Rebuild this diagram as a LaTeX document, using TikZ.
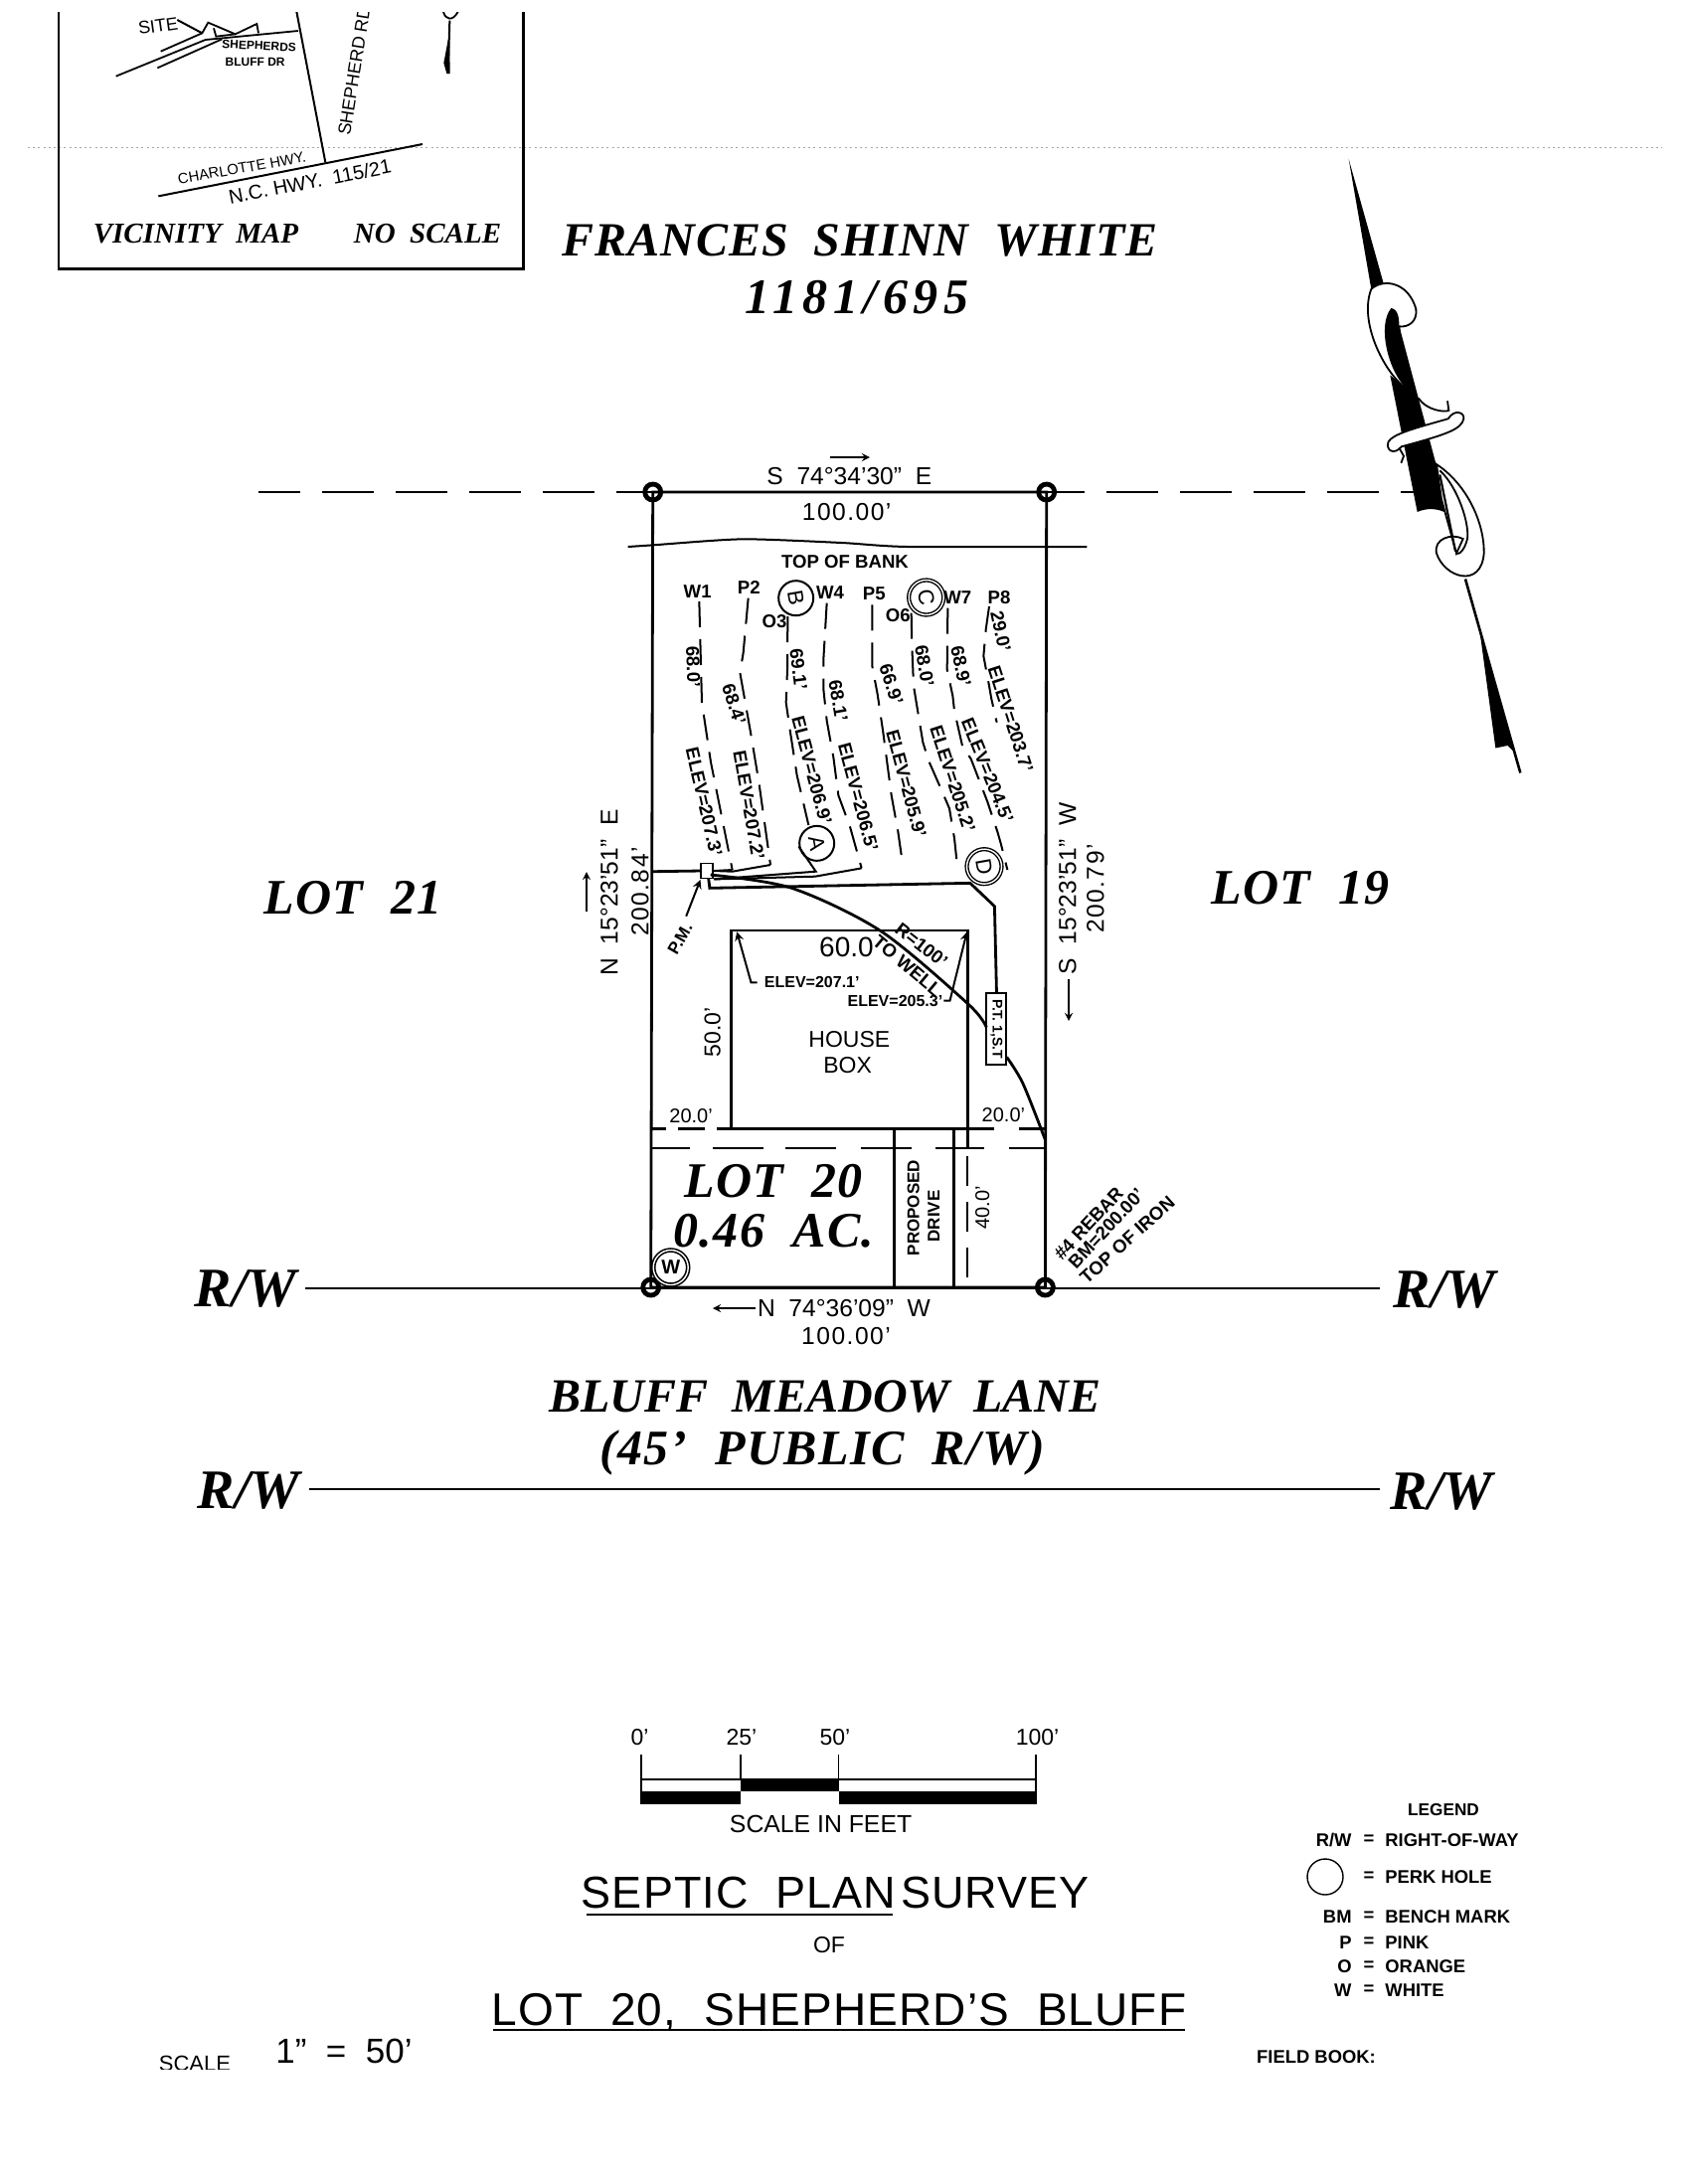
\documentclass[tikz,border=0pt]{standalone}
\usepackage{fontspec}
\setmainfont{Liberation Serif}
\setsansfont{Liberation Sans}
\newfontfamily\wideserif[LetterSpace=3,Ligatures=TeX]{Liberation Serif}
\newfontfamily\widesans[LetterSpace=2.5,Ligatures=TeX]{Liberation Sans}
\newfontfamily\digitsans[LetterSpace=6,Ligatures=TeX]{Liberation Sans}
\newcommand{\fsz}[1]{\fontsize{#1}{#1}\selectfont}
\tikzset{
  >=stealth,
  zoomone/.style={shift={(580,460)},x=0.16667pt,y=-0.16667pt},
  zoomtwo/.style={shift={(580,860)},x=0.20408pt,y=-0.16667pt},
  zoommap/.style={shift={(40,0)},x=0.16667pt,y=-0.16667pt},
  zoomnorth/.style={shift={(1320,140)},x=0.16667pt,y=-0.20833pt},
  lot/.style={font=\wideserif\bfseries\itshape\fsz{25},inner sep=0pt},
  tighttitle/.style={font=\wideserif\bfseries\itshape\addfontfeature{LetterSpace=#1}\fsz{24},inner sep=0pt},
  rowlabel/.style={font=\bfseries\itshape\fsz{28},inner sep=0pt},
  maptitle/.style={font=\bfseries\itshape\fsz{14.5},inner sep=0pt},
  lbl/.style={font=\sffamily\fsz{11.5},inner sep=0pt},
  dist/.style={font=\digitsans\fsz{12.3},inner sep=0pt},
  tiny/.style={font=\sffamily\bfseries\fsz{9.3},inner sep=0pt},
  legendtext/.style={font=\sffamily\bfseries\fsz{9.2},inner sep=0pt},
  head/.style={font=\widesans\fsz{22.5},inner sep=0pt},
  boundary/.style={line width=1.4pt},
  trench/.style={line width=1pt,dash pattern=on 13pt off 6pt},
  pipe/.style={line width=1pt},
  perk/.style={circle,draw,line width=1pt,minimum size=17.5pt,inner sep=0pt,
    font=\sffamily\fsz{11},rotate=-80},
  pin/.style={circle,draw,line width=2.4pt,minimum size=8pt,inner sep=0pt},
}
\begin{document}
\begin{tikzpicture}[x=0.5pt,y=-0.5pt]
  \useasboundingbox (0,0) rectangle (1704,2197);
  \draw[gray!70,line width=.5pt,dash pattern=on 1pt off 1.6pt] (28,148) -- (1672,148);

  % vicinity map
  \draw[boundary] (59,12) -- (59,270.7) -- (526.7,270.7) -- (526.7,12);
  \begin{scope}
    \clip (59,12) rectangle (526,270);
    \begin{scope}[zoommap]
      \node[rotate=81,anchor=south west,font=\sffamily\fsz{9},inner sep=0pt] (shepherd) at (938,412) {SHEPHERD RD};
      \node[rotate=8,font=\sffamily\fsz{9},inner sep=0pt] (site) at (357,78) {SITE};
      \node[font=\sffamily\bfseries\fsz{6},inner sep=0pt,rotate=-3] (sbd1) at (662,138) {SHEPHERDS};
      \node[font=\sffamily\bfseries\fsz{6},inner sep=0pt] (sbd2) at (650,187) {BLUFF DR};
      \node[font=\sffamily\fsz{7.4},inner sep=0pt,rotate=10] (charlotte) at (610,507) {CHARLOTTE HWY.};
      \node[font=\sffamily\fsz{10},inner sep=0pt,rotate=11] (nchwy) at (815,548) {N.C. HWY.\ \ 115/21};
      \draw[pipe] (415,60) -- (490,100);
      \draw[line width=.9pt] (230,230) -- (500,120) -- (780,93);
      \draw[line width=.9pt] (355,205) -- (550,118);
      \draw[line width=.9pt] (365,155) -- (490,100) -- (508,68) -- (590,103) -- (655,72) -- (660,100);
      \draw[line width=.9pt] (525,85) -- (532,110) -- (590,103);
      \draw[line width=1pt] (775,35) -- (862,490);
      \draw[line width=1pt] (358,592) -- (1155,435);
      \draw[line width=.9pt] (1218,36) .. controls (1225,60) and (1245,65) .. (1262,36);
      \draw[line width=1pt] (1237,62) -- (1232,222);
      \fill (1236,100) -- (1238,222) -- (1228,222) -- (1219,190) -- cycle;
    \end{scope}
  \end{scope}
  \node[maptitle] (vicinity) at (197,235) {VICINITY\ \ MAP};
  \node[maptitle] (noscale) at (430,235) {NO\ \ SCALE};

  % north arrow
  \begin{scope}[zoomnorth]
    \fill (110,48) -- (178,362) -- (215,348) -- cycle;
    \draw[line width=.9pt,fill=white] (178,362) .. controls (215,335) and (290,345) .. (313,410)
      .. controls (318,440) and (290,455) .. (262,452) -- (280,600)
      .. controls (215,560) and (140,440) .. (178,362) -- cycle;
    \fill (238,408) .. controls (262,410) and (262,440) .. (262,450) -- (372,780) -- (410,905)
      .. controls (380,890) and (345,890) .. (317,900) -- (235,570) -- (282,600)
      .. controls (230,560) and (195,450) .. (238,408) -- cycle;
    \draw[line width=.9pt] (320,625) .. controls (345,655) and (400,660) .. (412,655) -- (408,632);
    \draw[line width=.9pt,fill=white] (230,730) .. controls (245,712) and (300,700) .. (410,675)
      .. controls (430,650) and (460,660) .. (457,675) .. controls (450,700) and (410,712) .. (270,742)
      .. controls (245,765) and (220,750) .. (230,730) -- cycle;
    \draw[line width=.9pt] (262,745) -- (276,765) -- (268,782);
    \draw[line width=.9pt,fill=white] (375,785) .. controls (470,835) and (520,930) .. (518,1000)
      .. controls (510,1085) and (400,1060) .. (375,1000) .. controls (365,965) and (420,950) .. (455,965)
      -- (435,1000) -- (390,870) -- cycle;
    \draw[line width=.9pt] (385,800) .. controls (440,840) and (475,930) .. (468,965)
      .. controls (460,990) and (445,1005) .. (432,1000);
    \draw[line width=1.1pt] (385,810) -- (432,995);
    \draw[line width=1.3pt] (462,1062) -- (628,1530);
    \fill (505,1185) -- (610,1480) -- (590,1464) -- (553,1470) -- cycle;
  \end{scope}

  % lot corners
  \coordinate (nw) at (656.7,495);
  \coordinate (ne) at (1052.7,495);
  \coordinate (sw) at (654.7,1295);
  \coordinate (se) at (1051.4,1295);
  \draw[boundary] (nw) -- (ne) -- (se) -- (sw) -- cycle;
  \draw[boundary,dash pattern=on 26pt off 11pt,dash phase=7.5pt] (nw) -- (260,495);
  \draw[boundary,dash pattern=on 26pt off 11pt,dash phase=7pt] (ne) -- (1424,495);
  \draw[boundary] (307,1296) -- (1388,1296);
  \draw[boundary] (311,1498) -- (1388,1498);
  \foreach \n in {nw,ne,sw,se}
    \node at (\n)[pin]{};

  % trenches and house, coordinates read off the plan
  \begin{scope}[zoomone]
    \draw[pipe] plot[smooth,tension=.4] coordinates {(155,270) (230,265) (500,247) (800,258) (1000,270) (1540,270)};
    \node[rotate=-88,tiny] (w1len) at (352,632) {68.0'};
    \node[rotate=-77,tiny] (w1elev) at (385,1040) {ELEV=207.3'};
    \node[rotate=-72,tiny] (p2len) at (475,745) {68.4'};
    \node[rotate=-80,tiny] (p2elev) at (520,1050) {ELEV=207.2'};
    \node[rotate=-83,tiny] (o3len) at (670,640) {69.1'};
    \node[rotate=-75,tiny] (o3elev) at (710,945) {ELEV=206.9'};
    \node[rotate=-80,tiny] (w4len) at (790,735) {68.1'};
    \node[rotate=-75,tiny] (w4elev) at (850,1025) {ELEV=206.5'};
    \node[rotate=-72,tiny] (p5len) at (950,685) {66.9'};
    \node[rotate=-75,tiny] (p5elev) at (995,985) {ELEV=205.9'};
    \node[rotate=-80,tiny] (o6len) at (1050,630) {68.0'};
    \node[rotate=-72,tiny] (o6elev) at (1135,970) {ELEV=205.2'};
    \node[rotate=-78,tiny] (w7len) at (1160,630) {68.9'};
    \node[rotate=-68,tiny] (w7elev) at (1240,945) {ELEV=204.5'};
    \node[rotate=-78,tiny] (p8len) at (1280,525) {29.0'};
    \node[rotate=-72,tiny] (p8elev) at (1310,790) {ELEV=203.7'};
    \node[tiny] (w1) at (365,405) {W1};
    \node[tiny] (p2) at (520,392) {P2};
    \node[tiny] (o3) at (597,495) {O3};
    \node[tiny] (w4) at (765,408) {W4};
    \node[tiny] (p5) at (898,412) {P5};
    \node[tiny] (o6) at (970,477) {O6};
    \node[tiny] (w7) at (1150,423) {W7};
    \node[tiny] (p8) at (1275,423) {P8};
    \node[tiny] (bank) at (810,315) {TOP OF BANK};
    \node[font=\sffamily\fsz{12.3},inner sep=0pt] (topbearing) at (823,58) {S\ \ 74°34'30''\ \ E};
    \node[dist] (topdist) at (815,165) {100.00'};
    \node[perk] (holeb) at (662,425) {B};
    \node[perk,double,double distance=.7pt,line width=.7pt] (holec) at (1055,423) {C};
    \node[perk] (holea) at (725,1165) {A};
    \node[perk,double,double distance=.7pt,line width=.7pt] (holed) at (1230,1235) {D};
    \node[draw,line width=.9pt,minimum width=6pt,minimum height=7.5pt,inner sep=0pt] (pm) at (394,1248) {};
    \draw[trench] (370,435) -- (378,740) -- (405,920) -- (470,1245);
    \draw[trench] (518,425) -- (503,590) -- (493,650) -- (525,830) -- (550,980) -- (585,1230);
    \draw[trench] (637,480) -- (636,640) -- (632,740) -- (645,830) -- (665,960) -- (700,1110);
    \draw[trench] (755,440) -- (745,610) -- (745,700) -- (755,795) -- (775,905) -- (790,1020) -- (825,1115) -- (860,1240);
    \draw[trench] (892,445) -- (892,630) -- (908,715) -- (925,830) -- (950,1020) -- (970,1130) -- (985,1235);
    \draw[trench] (1010,470) -- (1012,570) -- (1017,690) -- (1035,800) -- (1045,860) -- (1062,915) -- (1108,1020) -- (1125,1060) -- (1140,1150) -- (1150,1245);
    \draw[trench] (1120,455) -- (1118,640) -- (1135,720) -- (1140,765) -- (1165,875) -- (1190,910) -- (1215,975) -- (1240,1040) -- (1270,1130) -- (1280,1165) -- (1300,1245);
    \draw[trench] (1245,450) -- (1235,520) -- (1228,600) -- (1245,690) -- (1252,730) -- (1268,800);
    \draw[pipe] (470,1245) -- (pm.east);
    \draw[pipe] (585,1230) -- (470,1250) -- (pm.east);
    \draw[pipe] (holea.south) -- (722,1250) -- (pm.south east);
    \draw[pipe] (860,1240) -- (720,1265) -- (pm.south east);
  \end{scope}
  \draw[boundary] (pm.west) -- (657,876.7);

  \begin{scope}[zoomtwo]
    \coordinate (hnw) at (380,228);
    \coordinate (hne) at (965,228);
    \coordinate (hsw) at (380,826);
    \coordinate (hse) at (965,826);
    \draw[boundary] (hsw) -- (hnw) -- (hne) -- (hse);
    \draw[boundary] (hse) -- (965,885);
    \draw[pipe,dash pattern=on 15pt off 8pt] (962,910) -- (962,1305);
    % setback lines
    \draw[boundary] (185,826) -- (220,826) (250,826) -- (315,826) (345,826) -- (1030,826) (1090,826) -- (1155,826);
    \draw[boundary] (185,885) -- (280,885) (335,885) -- (460,885) (515,885) -- (640,885) (700,885) -- (825,885) (885,885) -- (1005,885) (1065,885) -- (1155,885);
    \draw[boundary] (782,830) -- (782,1305);
    \draw[boundary] (930,830) -- (930,1305);
    % septic line and well curve
    \draw[boundary] (325,70) -- (328,100) -- (970,85) -- (1030,155) -- (1035,415);
    \draw[boundary] plot[smooth,tension=.5] coordinates {(330,60) (530,100) (750,230) (965,450) (1010,520)};
    \draw[boundary] plot[smooth,tension=.5] coordinates {(1060,610) (1100,690) (1155,860)};
    \node[draw,line width=1pt,rotate=-90,minimum width=36pt,minimum height=10pt,inner sep=0pt,font=\sffamily\bfseries\fsz{7}] (ptbox) at (1035,526) {P.T. 1,S.T};
    \coordinate (pmtail) at (270,185);
    \draw[->,pipe] (pmtail) -- (305,75);
    \node[rotate=60,font=\sffamily\bfseries\fsz{8.5},inner sep=0pt] (pmlabel) at (255,252) {P.M.};
    \node[font=\sffamily\fsz{14},inner sep=0pt] (sixty) at (665,280) {60.0};
    \node[tiny,rotate=-40] (towell) at (815,335) {TO WELL};
    \node[tiny,rotate=-38] (radius) at (850,272) {R=100'};
    \node[tiny,font=\sffamily\bfseries\fsz{8}] (elevleft) at (580,385) {ELEV=207.1'};
    \node[tiny,font=\sffamily\bfseries\fsz{8}] (elevright) at (785,440) {ELEV=205.3'};
    \draw[->,pipe] (445,385) -- (430,385) -- (395,232);
    \draw[->,pipe] (905,440) -- (920,440) -- (962,232);
    \node[lbl] (house) at (672,558) {HOUSE};
    \node[lbl] (box) at (668,635) {BOX};
    \node[lbl,rotate=90] (fifty) at (335,535) {50.0'};
    \node[font=\sffamily\fsz{10},inner sep=0pt] (setleft) at (282,788) {20.0'};
    \node[font=\sffamily\fsz{10},inner sep=0pt] (setright) at (1052,785) {20.0'};
    \node[lot] (lottwenty) at (485,985) {LOT\ \ 20};
    \node[lot] (acres) at (486,1135) {0.46\ \ AC.};
    \node[font=\sffamily\bfseries\fsz{8.5},inner sep=0pt,rotate=90] (proposed) at (830,1065) {PROPOSED};
    \node[font=\sffamily\bfseries\fsz{8.5},inner sep=0pt,rotate=90] (drive) at (880,1090) {DRIVE};
    \node[font=\sffamily\fsz{10},inner sep=0pt,rotate=90] (forty) at (1000,1065) {40.0'};
    \node[perk,double,double distance=.7pt,line width=.8pt,rotate=80,font=\sffamily\bfseries\fsz{10}] (wmark) at (232,1245) {W};
    \node[tiny,rotate=47] (rebar) at (1262,1112) {\#4 REBAR};
    \node[tiny,rotate=47] (bm) at (1305,1128) {BM=200.00'};
    \node[tiny,rotate=42] (iron) at (1357,1162) {TOP OF IRON};
  \end{scope}

  % bearings
  \draw[->,line width=.8pt] (835,460) -- (875,460);
  \node[font=\sffamily\fsz{12.3},inner sep=0pt,rotate=90] (westbearing) at (613,898) {N\ \ 15°23'51''\ \ E};
  \node[dist,rotate=90] (westdist) at (644,897) {200.84'};
  \draw[->,line width=.8pt] (590,917) -- (590,877);
  \node[font=\sffamily\fsz{12.3},inner sep=0pt,rotate=90] (eastbearing) at (1074,894) {S\ \ 15°23'51''\ \ W};
  \node[dist,rotate=90] (eastdist) at (1102,894) {200.79'};
  \draw[->,line width=.8pt] (1075,985) -- (1075,1027);
  \node[font=\sffamily\fsz{12.3},inner sep=0pt] (botbearing) at (849,1316) {N\ \ 74°36'09''\ \ W};
  \draw[->,line width=.8pt] (760,1316) -- (717,1316);
  \node[dist] (botdist) at (851,1344) {100.00'};

  % titles
  \node[tighttitle=2] (owner) at (865,242) {FRANCES\ \ SHINN\ \ WHITE};
  \node[lot,font=\wideserif\bfseries\itshape\addfontfeature{LetterSpace=11}\fsz{25}] (deed) at (862,299) {1181/695};
  \node[lot] (lotleft) at (355,903) {LOT\ \ 21};
  \node[lot] (lotright) at (1308,893) {LOT\ \ 19};
  \node[tighttitle=0] (lane) at (830,1405) {BLUFF\ \ MEADOW\ \ LANE};
  \node[lot] (publicrw) at (827,1461) {(45'\ \ PUBLIC\ \ R/W)};
  \node[rowlabel] (rwa) at (247,1296) {R/W};
  \node[rowlabel] (rwb) at (1453,1297) {R/W};
  \node[rowlabel] (rwc) at (250,1499) {R/W};
  \node[rowlabel] (rwd) at (1450,1500) {R/W};

  % scale bar
  \coordinate (sa) at (645,1790);
  \coordinate (sb) at (745,1790);
  \coordinate (sc) at (843.6,1790);
  \coordinate (sd) at (1042,1790);
  \draw[pipe] (sa) -- (sd);
  \foreach \n in {sa,sb,sc,sd}
    \draw[line width=.7pt] (\n) -- ++(0,-25);
  \fill (745,1790) rectangle (843.6,1802);
  \fill (645,1802) rectangle (745,1815);
  \fill (843.6,1802) rectangle (1042,1815);
  \draw[line width=.6pt] (sa) -- (645,1815) (sd) -- (1042,1815);
  \foreach \x/\t in {643.6/0',746/25',840/50',1043.6/100'}
    \node[lbl] at (\x,1748) {\t};
  \node[font=\sffamily\fsz{12.4},inner sep=0pt] (scalefeet) at (825.6,1835) {SCALE IN FEET};

  \node[head] (septic) at (743,1904) {SEPTIC\ \ PLAN};
  \node[head] (survey) at (1001,1904) {SURVEY};
  \draw[boundary] (590,1926) -- (898,1926);
  \node[lbl] (of) at (834,1957) {OF};
  \node[head,font=\widesans\fsz{23}] (lotname) at (844,2024) {LOT\ \ 20,\ \ SHEPHERD'S\ \ BLUFF};
  \draw[boundary] (496,2042) -- (1192,2042);
  \begin{scope}
    \clip (150,2060) rectangle (240,2081);
    \node[font=\sffamily\fsz{11},inner sep=0pt] (scaleword) at (196,2076) {SCALE};
  \end{scope}
  \node[font=\sffamily\fsz{17.5},inner sep=0pt] (ratio) at (346,2063) {1''\ \ =\ \ 50'};

  % legend
  \node[legendtext,font=\sffamily\bfseries\fsz{8.6}] (legend) at (1452,1821) {LEGEND};
  \foreach \y/\a/\b in {1851/R\slash W/RIGHT-OF-WAY,1927.7/BM/BENCH MARK,1954/P/PINK,1978/O/ORANGE,2001.7/W/WHITE} {
    \node[legendtext,anchor=east] at (1360,\y) {\a};
    \node[legendtext] at (1377,\y) {=};
    \node[legendtext,anchor=west] at (1393,\y) {\b};
  }
  \node[circle,draw,line width=.7pt,minimum size=18pt,inner sep=0pt] (perkhole) at (1333,1888) {};
  \node[legendtext] (perkeq) at (1377,1888) {=};
  \node[legendtext,anchor=west] (perktext) at (1393,1888) {PERK HOLE};
  \node[legendtext] (fieldbook) at (1324,2069) {FIELD BOOK:};
\end{tikzpicture}
\end{document}
